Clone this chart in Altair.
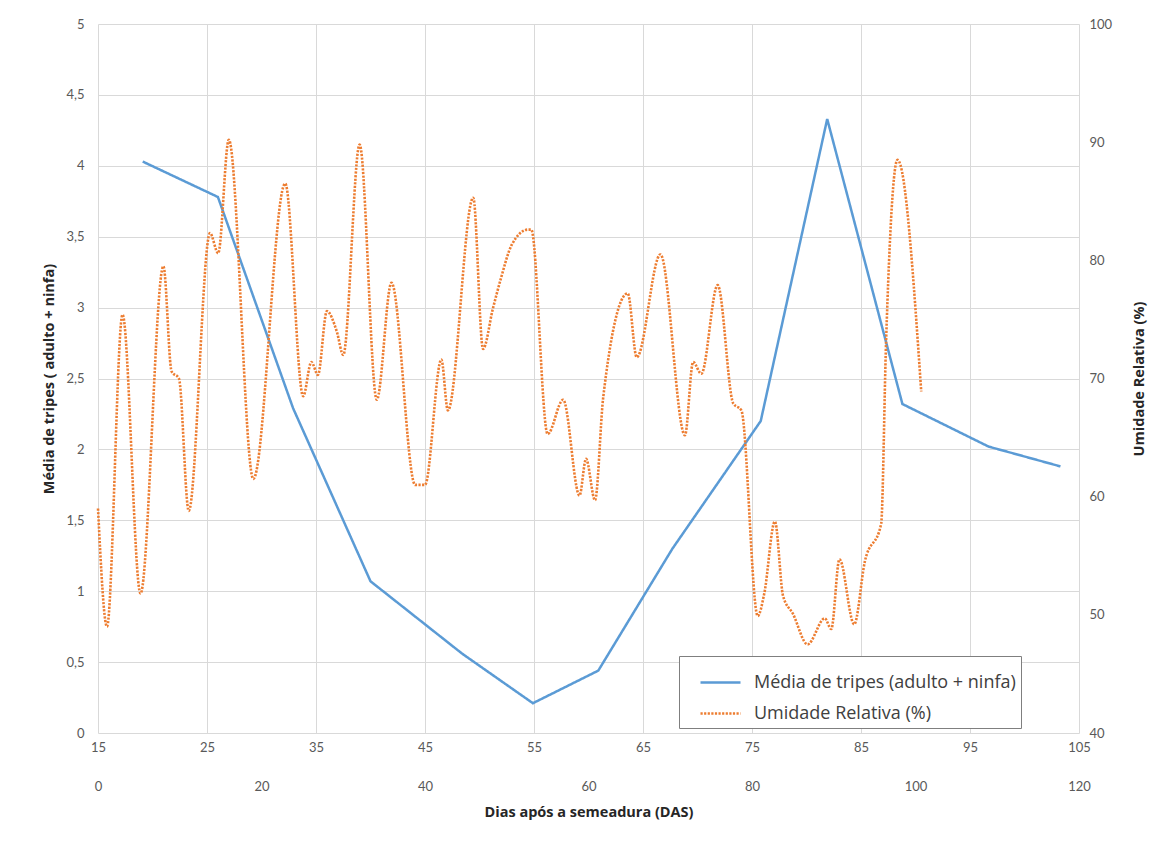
import altair as alt
import pandas as pd

# Série 1: média de tripes (eixo X primário 15-105, eixo Y esquerdo 0-5)
tripes_das = [19.1, 26.0, 32.9, 40.0, 48.4, 54.9, 60.9, 67.7, 75.8, 81.9, 88.8, 96.7, 103.3]
tripes_val = [4.03, 3.78, 2.29, 1.07, 0.56, 0.21, 0.44, 1.30, 2.20, 4.33, 2.32, 2.02, 1.88]

# Série 2: umidade relativa (eixo X secundário 0-120, eixo Y direito 40-100)
ur_dia = [0.0, 1.1, 3.0, 5.2, 8.0, 9.0, 9.9, 11.1, 13.7, 14.7, 16.0, 19.0, 22.9, 25.1,
          26.1, 26.9, 28.0, 29.2, 30.0, 32.0, 34.1, 35.9, 38.8, 40.0, 42.0, 42.8, 45.9,
          47.1, 48.3, 49.3, 50.6, 52.6, 53.0, 55.0, 56.9, 58.9, 59.7, 60.8, 61.8, 64.8,
          65.9, 68.8, 71.8, 72.8, 73.8, 75.8, 77.7, 78.7, 80.7, 81.5, 82.8, 83.8, 85.0,
          86.8, 88.9, 89.7, 90.7, 92.5, 93.8, 95.8, 96.4, 97.8, 100.7]
ur_val = [59.0, 49.0, 75.4, 51.8, 79.5, 70.6, 70.0, 58.8, 82.3, 80.6, 90.2, 61.5, 86.5, 68.5,
          71.4, 70.3, 75.7, 74.0, 72.0, 89.8, 68.2, 78.1, 61.0, 61.0, 71.6, 67.3, 85.3,
          72.5, 75.9, 78.5, 81.3, 82.6, 82.6, 65.3, 68.2, 60.1, 63.2, 59.7, 68.4, 77.2,
          71.8, 80.5, 65.2, 71.4, 70.4, 77.9, 67.9, 67.3, 49.9, 51.8, 57.9, 51.6, 50.1,
          47.5, 49.7, 48.8, 54.7, 49.2, 54.5, 57.7, 73.1, 88.5, 68.9]

x1_ticks = [15, 25, 35, 45, 55, 65, 75, 85, 95, 105]
x2_ticks = [0, 20, 40, 60, 80, 100, 120]
y1_ticks = [0, 0.5, 1, 1.5, 2, 2.5, 3, 3.5, 4, 4.5, 5]
y2_ticks = [40, 50, 60, 70, 80, 90, 100]

S1 = "Média de tripes (adulto + ninfa)"
S2 = "Umidade Relativa (%)"

df1 = pd.DataFrame({"das": tripes_das, "val": tripes_val, "serie": S1})
df2 = pd.DataFrame({"dia": ur_dia, "ur": ur_val, "serie": S2})

leg = alt.Legend(
    title=None, orient="none", legendX=581, legendY=632,
    strokeColor="#7f7f7f", fillColor="white", padding=5,
    labelFont="Open Sans", labelFontSize=18, labelColor="#404040", labelOffset=12,
    labelLimit=500, symbolOffset=15,
    symbolType="stroke", symbolSize=1600, symbolStrokeWidth=2.5, rowPadding=-12,
)
color = alt.Color("serie:N", scale=alt.Scale(domain=[S1, S2], range=["#5b9bd5", "#ed7d31"]), legend=leg)
dash = alt.StrokeDash("serie:N", scale=alt.Scale(domain=[S1, S2], range=[[1, 0], [2.2, 1.4]]), legend=leg)

blue = alt.Chart(df1).mark_line(strokeWidth=2.5).encode(
    x=alt.X("das:Q", scale=alt.Scale(domain=[15, 105], nice=False, zero=False),
            axis=alt.Axis(values=x1_ticks, title=None, grid=True, labelPadding=8, labelFlush=False)),
    y=alt.Y("val:Q", scale=alt.Scale(domain=[0, 5], nice=False),
            axis=alt.Axis(values=y1_ticks, grid=True, labelPadding=14,
                          labelExpr="replace(format(datum.value, ''), '.', ',')",
                          title="Média de tripes ( adulto + ninfa)", titlePadding=9)),
    color=color, strokeDash=dash,
)

orange = alt.Chart(df2).mark_line(strokeWidth=2.6, interpolate="monotone").encode(
    x=alt.X("dia:Q", scale=alt.Scale(domain=[0, 120], nice=False, zero=False),
            axis=alt.Axis(orient="bottom", values=x2_ticks, grid=False, offset=39, labelPadding=8,
                          labelFlush=False,
                          title="Dias após a semeadura (DAS)", titlePadding=12)),
    y=alt.Y("ur:Q", scale=alt.Scale(domain=[40, 100], nice=False, zero=False),
            axis=alt.Axis(orient="right", values=y2_ticks, grid=False, labelPadding=10,
                          title="Umidade Relativa (%)", titleAngle=270, titlePadding=35)),
    color=color, strokeDash=dash,
)

chart = alt.layer(blue, orange).resolve_scale(
    x="independent", y="independent"
).properties(
    width=981, height=709,
    padding={"left": 33, "top": 10, "right": 3, "bottom": 3},
).configure_axis(
    labelFont="Lato", labelFontSize=13, labelColor="#595959",
    titleFont="Open Sans", titleFontSize=14.5, titleFontWeight="bold", titleColor="#262626",
    domain=False, ticks=False, gridColor="#d9d9d9", gridWidth=1,
).configure_view(stroke=None)

chart.save("out.html", embed_options={"renderer": "svg", "actions": False})
